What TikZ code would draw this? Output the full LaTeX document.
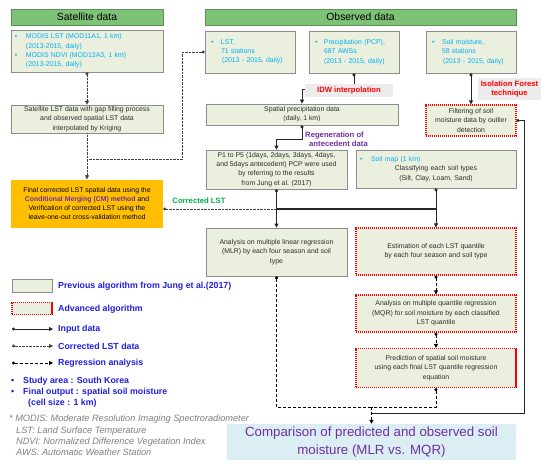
\documentclass[tikz,border=0pt]{standalone}
\usepackage{fontspec}
\setmainfont{Liberation Sans}
\usetikzlibrary{arrows.meta}
\definecolor{hdr}{RGB}{125,194,118}
\definecolor{boxfill}{RGB}{235,240,222}
\definecolor{boxline}{RGB}{140,140,140}
\definecolor{cyantx}{RGB}{0,176,240}
\definecolor{orng}{RGB}{255,190,0}
\definecolor{purp}{RGB}{112,48,160}
\definecolor{grn}{RGB}{0,176,80}
\definecolor{legblue}{RGB}{30,30,225}
\definecolor{compfill}{RGB}{218,238,243}
\definecolor{lblgray}{RGB}{236,236,236}
\definecolor{ftgray}{RGB}{128,128,128}
\definecolor{txt}{RGB}{45,45,45}
\newcommand{\mybul}[1]{\makebox[#1][l]{•}}
\tikzset{
 box/.style={draw=boxline, fill=boxfill, line width=0.7pt, inner sep=0pt, text=txt, align=center, font=\fontsize{6.9}{9.3}\selectfont},
 advbox/.style={box, draw=red, line width=1.1pt, dash pattern=on 1.1pt off 0.9pt},
 hdrbox/.style={draw=hdr!75!black, line width=0.6pt, fill=hdr, inner sep=0pt, font=\fontsize{10.4}{12}\selectfont, text=black},
 orbox/.style={fill=orng, inner sep=0pt, text=black, align=center, font=\fontsize{6.9}{9.3}\selectfont},
 compbox/.style={fill=compfill, inner sep=0pt, text=purp, align=center, font=\fontsize{13.3}{18}\selectfont},
 lbl/.style={inner sep=0pt, font=\bfseries\fontsize{7.7}{9.2}\selectfont},
 leg/.style={inner sep=0pt, text=legblue, font=\bfseries\fontsize{8.8}{11}\selectfont, align=left},
 foot/.style={inner sep=0pt, text=ftgray, font=\itshape\fontsize{9.2}{11.3}\selectfont, align=left},
 solidln/.style={line width=0.9pt, draw=black!85},
 cor/.style={line width=0.7pt, draw=black!75, dash pattern=on 0.7pt off 0.7pt},
 reg/.style={line width=1pt, draw=black, dash pattern=on 3pt off 2pt},
 dotstart/.style={{Circle[length=3pt]}-},
 tipend/.style={-{Triangle[length=4pt,width=4pt]}},
 dotarr/.style={{Circle[length=3pt]}-{Triangle[length=4pt,width=4pt]}},
}
\begin{document}
\begin{tikzpicture}[x=1pt,y=-1pt]
\useasboundingbox (0,0) rectangle (550,469);
\fill[white] (0,0) rectangle (550,469);

% headers
\node[hdrbox, minimum width=152pt, minimum height=16pt] (sathead) at (87,17) {Satellite data};
\node[hdrbox, minimum width=311pt, minimum height=16pt] (obshead) at (360.5,17) {Observed data};

% top boxes
\node[box, minimum width=152pt, minimum height=42pt, text width=144pt, inner xsep=4pt, align=left, text=cyantx] (satbox) at (87,51)
 {\mybul{11pt}MODIS LST (MOD11A1, 1 km)\\\hspace*{11pt}(2013-2015, daily)\\\mybul{11pt}MODIS NDVI (MOD13A3, 1 km)\\\hspace*{11pt}(2013-2015, daily)};
\node[box, minimum width=90pt, minimum height=42pt, text width=78pt, inner xsep=6pt, align=left, text=cyantx] (lstbox) at (250,52)
 {\mybul{10pt}LST,\\\hspace*{10pt}71 stations\\\hspace*{11pt}(2013 - 2015, daily)};
\node[box, minimum width=90pt, minimum height=42pt, text width=78pt, inner xsep=6pt, align=left, text=cyantx] (pcpbox) at (354,52)
 {\mybul{9pt}Precipitation (PCP),\\\hspace*{9pt}687 AWSs\\\hspace*{9pt}(2013 - 2015, daily)};
\node[box, minimum width=90pt, minimum height=42pt, text width=78pt, inner xsep=6pt, align=left, text=cyantx] (smbox) at (471,52)
 {\mybul{10pt}Soil moisture,\\\hspace*{10pt}58 stations\\\hspace*{11pt}(2013 - 2015, daily)};

% second row
\node[box, minimum width=152pt, minimum height=28pt] (satlst) at (87,119)
 {Satellite LST data with gap filling process\\and observed spatial LST data\\interpolated by Kriging};
\node[box, minimum width=192pt, minimum height=21pt] (sppcp) at (302,114.5)
 {Spatial precipitation data\\(daily, 1 km)};
\node[advbox, minimum width=90pt, minimum height=31pt] (filter) at (471,120.5)
 {Filtering of soil\\moisture data by outlier\\detection};

\node[orbox, minimum width=152pt, minimum height=48pt] (orange) at (87,203.5)
 {Final corrected LST spatial data using the\\\textcolor{purp}{\bfseries Conditional Merging (CM) method} and\\Verification of corrected LST using the\\leave-one-out cross-validation method};

\node[box, minimum width=141pt, minimum height=39pt] (p15) at (276.5,169.5)
 {P1 to P5 (1days, 2days, 3days, 4days,\\and 5days antecedent) PCP were used\\by referring to the results\\from Jung et al. (2017)};
\node[box, minimum width=160pt, minimum height=38pt, text width=152pt, inner xsep=4pt] (soilmap) at (436,169)
 {\makebox[152pt][l]{\textcolor{cyantx}{\mybul{11pt}Soil map (1 km)}}\\Classifying each soil types\\(Silt, Clay, Loam, Sand)};

\node[box, minimum width=141pt, minimum height=48pt] (mlr) at (276.5,252)
 {Analysis on multiple linear regression\\(MLR) by each four season and soil\\type};
\node[advbox, minimum width=160pt, minimum height=47pt] (est) at (436,251.5)
 {Estimation of each LST quantile\\by each four season and soil type};
\node[advbox, minimum width=160pt, minimum height=37pt] (mqr) at (436,313.5)
 {Analysis on multiple quantile regression\\(MQR) for soil moisture by each classified\\LST quantile};
\node[advbox, minimum width=160pt, minimum height=39pt] (pred) at (436,368)
 {Prediction of spatial soil moisture\\using each final LST quantile regression\\equation};

\node[compbox, minimum width=289pt, minimum height=36pt] (comp) at (371.5,442)
 {Comparison of predicted and observed soil\\moisture (MLR vs. MQR)};

% connectors: satellite side (corrected LST, dotted)
\coordinate (jsat) at (87,159);
\coordinate (j1) at (276.5,209);
\coordinate (jd) at (371.5,407);
\coordinate (jr) at (371.5,413);
\draw[cor, dotarr] (satbox.south) -- (satlst.north);
\draw[cor, tipend] (satlst.south) -- (orange.north);
\draw[cor, dotstart] (lstbox.west) -- ++(-22,0) |- (jsat);
\draw[cor, dotstart] (orange.east |- j1) -- (j1);

% input data (solid)
\draw[solidln, dotarr] (pcpbox.south) -- ++(0,16) -| (sppcp.north);
\draw[solidln, dotarr] (smbox.south) -- (filter.north);
\draw[solidln, dotarr] (sppcp.south) -- ++(0,14) -| (p15.north);
\draw[solidln, dotarr] (p15.south) -- (mlr.north);
\draw[solidln, dotarr] (soilmap.south) -- (est.north);
\draw[line width=1.6pt, draw=black!85] (j1) -- (soilmap.south |- j1);
\draw[solidln, dotstart] (filter.east) -- ++(8,0) |- (jr);

% regression (dashed)
\draw[reg, dotarr] (est.south) -- (mqr.north);
\draw[reg, dotarr] (mqr.south) -- (pred.north);
\draw[reg, dotstart] (mlr.south) |- (jd);
\draw[reg, dotstart] (pred.south) |- (jd);
\draw[reg, tipend] (jd) -- (comp.north);

% labels
\node[lbl, fill=lblgray, text=red, minimum width=88pt, minimum height=13pt] (idw) at (349,90.5) {IDW interpolation};
\node[lbl, fill=lblgray, text=red, align=center, minimum width=63pt, minimum height=22pt] (iso) at (509.5,89) {Isolation Forest\\technique};
\node[lbl, text=purp, align=left, anchor=west] (regen) at (305,139.5) {Regeneration of\\\hspace*{4pt}antecedent data};
\node[lbl, text=grn, fill=white, inner sep=1pt] (clst) at (199,200.5) {Corrected LST};

% legend
\node[box, minimum width=40pt, minimum height=13pt] (lg1) at (32,285.5) {};
\node[leg, anchor=west] (lg1t) at (58,286) {Previous algorithm from Jung et al.(2017)};
\node[advbox, minimum width=40pt, minimum height=12pt] (lg2) at (32,308.5) {};
\node[leg, anchor=west] (lg2t) at (58,309) {Advanced algorithm};
\coordinate (la1) at (12,329); \coordinate (la2) at (53,329);
\coordinate (lb1) at (12,346); \coordinate (lb2) at (53,346);
\coordinate (lc1) at (12,363); \coordinate (lc2) at (53,363);
\draw[solidln, dotarr] (la1) -- (la2);
\draw[cor, dotarr] (lb1) -- (lb2);
\draw[reg, dotarr] (lc1) -- (lc2);
\node[leg, anchor=west] (lg3t) at (58,329) {Input data};
\node[leg, anchor=west] (lg4t) at (58,346) {Corrected LST data};
\node[leg, anchor=west] (lg5t) at (58,363) {Regression analysis};
\node[leg, anchor=west] (bul) at (11,392.5)
 {\mybul{12pt}Study area : South Korea\\\mybul{12pt}Final output : spatial soil moisture\\\hspace*{17pt}(cell size : 1 km)};
\node[foot, anchor=west] (foot) at (9,435.5)
 {* MODIS: Moderate Resolution Imaging Spectroradiometer\\\hspace*{7pt}LST: Land Surface Temperature\\\hspace*{7pt}NDVI: Normalized Difference Vegetation Index\\\hspace*{7pt}AWS: Automatic Weather Station};
\end{tikzpicture}
\end{document}
